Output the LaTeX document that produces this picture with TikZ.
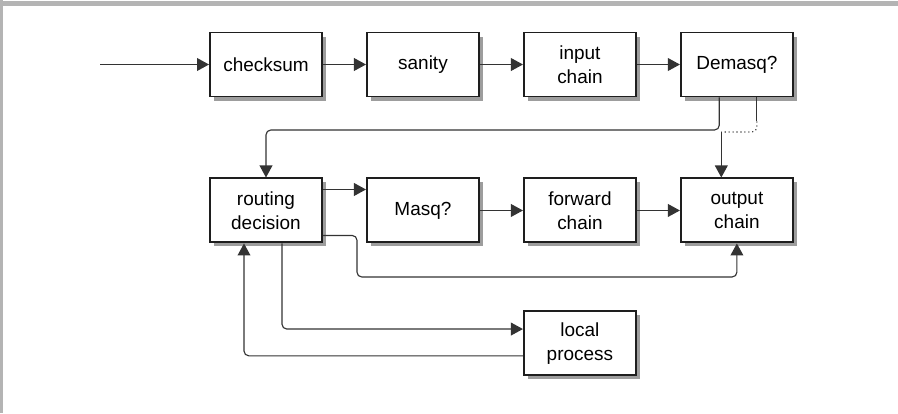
\documentclass[tikz,border=0pt]{standalone}
\usepackage{fontspec}
\setmainfont{Liberation Sans}
\usepackage{xcolor}
\definecolor{boxDark}{HTML}{1E1E1E}
\definecolor{lineDark}{HTML}{333333}
\definecolor{frameGray}{HTML}{B4B4B4}
\usetikzlibrary{positioning,calc,arrows.meta,shadows}
\tikzset{
  procBox/.style={
    rectangle,
    draw=boxDark,
    line width=1.4pt,
    fill=white,
    minimum width=2.8cm,
    minimum height=1.6cm,
    inner sep=0pt,
    align=center,
    font=\fontsize{13.5}{17}\selectfont,
    drop shadow={shadow xshift=0.09cm, shadow yshift=-0.1cm, fill=black!55, opacity=0.7}
 },
  flowLine/.style={
    -{Triangle[length=3mm,width=3.2mm]},
    line width=0.8pt,
    rounded corners=0.12cm,
    color=lineDark
 },
  plainLine/.style={
    line width=0.8pt,
    rounded corners=0.12cm,
    color=lineDark
 }
}

\begin{document}
\begin{tikzpicture}[node distance=1.075cm]
  % frame
  \useasboundingbox (0,0) rectangle (22.45,-10.325);
  \draw[frameGray, line width=3.5pt] (0,-0.09) -- (22.45,-0.09);
  \draw[frameGray, line width=2.5pt] (0.04,0) -- (0.04,-10.325);

  % top row
  \node[procBox] (checksum) at (6.65,-1.6125) {checksum};
  \node[procBox, right=of checksum] (sanity) {sanity};
  \node[procBox, right=of sanity] (input) {input\\chain};
  \node[procBox, right=of input] (demasq) {Demasq?};

  % middle row
  \node[procBox, below=2cm of checksum] (routing) {routing\\decision};
  \node[procBox, right=of routing] (masq) {Masq?};
  \node[procBox, right=of masq] (forward) {forward\\chain};
  \node[procBox, right=of forward] (output) {output\\chain};

  % bottom row
  \node[procBox, below=1.675cm of forward] (local) {local\\process};

  \coordinate (entry) at (2.5,-1.6125);
  \coordinate (upperLane) at (0,-3.25);
  \coordinate (dotLane) at (0,-3.3);
  \coordinate (lowerLane) at (0,-6.925);

  \draw[flowLine] (entry) -- (checksum);
  \draw[flowLine] (checksum) -- (sanity);
  \draw[flowLine] (sanity) -- (input);
  \draw[flowLine] (input) -- (demasq);

  \draw[flowLine] ([xshift=-0.44cm]demasq.south) -- ([xshift=-0.44cm]demasq.south |- upperLane) -| (routing.north);
  \draw[plainLine] ([xshift=0.5cm]demasq.south) -- ++(0,-0.6) coordinate (dotStart);
  \draw[plainLine, dotted] (dotStart) |- ([xshift=-0.39cm]output.north |- dotLane) coordinate (dotEnd);
  \draw[flowLine] (dotEnd) -- ([xshift=-0.39cm]output.north);

  \draw[flowLine] ([yshift=-0.3cm]routing.north east) -- ([yshift=-0.3cm]routing.north east -| masq.west);
  \draw[flowLine] (masq) -- (forward);
  \draw[flowLine] (forward) -- (output);
  \draw[flowLine] ([yshift=0.2cm]routing.south east) -- ++(0.85,0) |- (lowerLane -| output.south) -- (output.south);

  \draw[flowLine] ([xshift=0.4cm]routing.south) |- ([yshift=0.36cm]local.west);
  \draw[flowLine] ([yshift=-0.31cm]local.west) -| ([xshift=-0.55cm]routing.south);
\end{tikzpicture}
\end{document}
